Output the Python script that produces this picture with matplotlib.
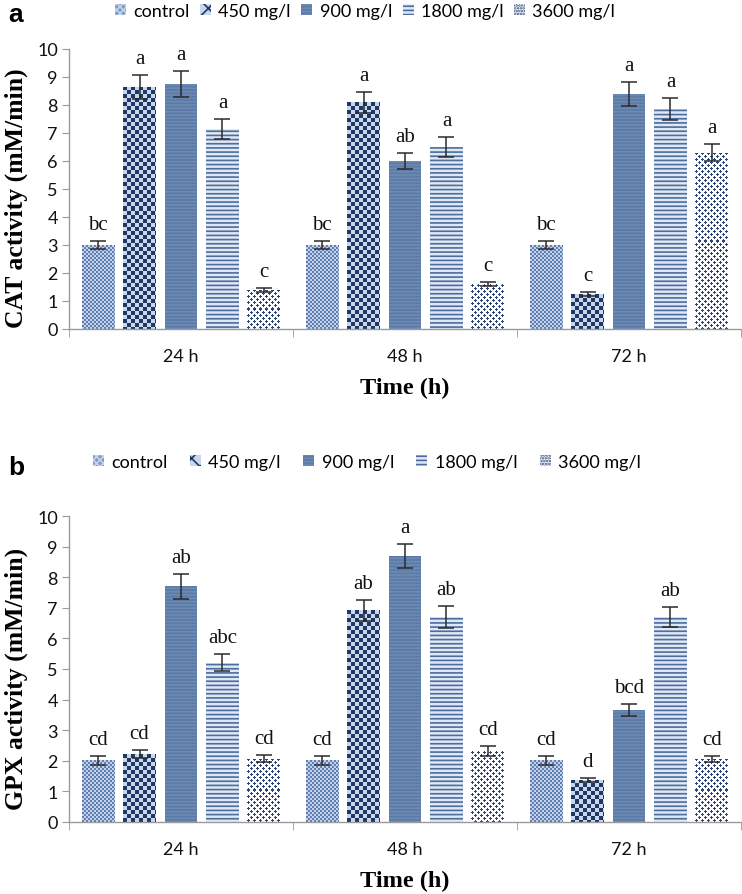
import numpy as np
import matplotlib
matplotlib.use("Agg")
import matplotlib.pyplot as plt
from matplotlib.colors import ListedColormap

# ---------------- data ----------------
times = ["24 h", "48 h", "72 h"]
series = ["control", "450 mg/l", "900 mg/l", "1800 mg/l", "3600 mg/l"]

cat_vals = [[3.0, 3.0, 3.0],
            [8.65, 8.1, 1.25],
            [8.75, 6.0, 8.4],
            [7.15, 6.5, 7.85],
            [1.4, 1.6, 6.3]]
cat_err = [[0.15, 0.15, 0.15],
           [0.42, 0.38, 0.06],
           [0.45, 0.3, 0.42],
           [0.35, 0.35, 0.4],
           [0.07, 0.07, 0.3]]
cat_let = [["bc", "bc", "bc"],
           ["a", "a", "c"],
           ["a", "ab", "a"],
           ["a", "a", "a"],
           ["c", "c", "a"]]

gpx_vals = [[2.02, 2.02, 2.02],
            [2.22, 6.92, 1.38],
            [7.7, 8.7, 3.65],
            [5.2, 6.7, 6.7],
            [2.07, 2.32, 2.07]]
gpx_err = [[0.15, 0.15, 0.15],
           [0.14, 0.35, 0.07],
           [0.4, 0.4, 0.2],
           [0.28, 0.35, 0.33],
           [0.12, 0.15, 0.1]]
gpx_let = [["cd", "cd", "cd"],
           ["cd", "ab", "d"],
           ["ab", "a", "bcd"],
           ["abc", "ab", "ab"],
           ["cd", "cd", "cd"]]

# ---------------- styles ----------------
NAVY = "#1f3864"
STEEL = "#5b7aa6"
styles = [
    dict(fc="#7f9ac4", hatch="xxxxx", ec="#c4d2ea"),   # control
    dict(fc="#c9d7ee", hatch="xx", ec=NAVY),            # 450
    dict(fc=STEEL, hatch="-----", ec="#6d8ab3"),        # 900
    dict(fc="#dfe8f6", hatch="----", ec="#4e6d9c"),     # 1800
    dict(fc="#f4f7fc", hatch="......", ec="#2f4a7a"),   # 3600
]


def checker_tile(n):
    t = np.zeros((2 * n, 2 * n))
    t[:n, n:] = 1
    t[n:, :n] = 1
    return t


dot_tile = np.array([
    [0, 1, 0, 0, 0, 0],
    [1, 1, 1, 0, 0, 0],
    [0, 1, 0, 0, 0, 0],
    [0, 0, 0, 0, 1, 0],
    [0, 0, 0, 1, 1, 1],
    [0, 0, 0, 0, 1, 0],
], dtype=float)

patterns = {
    0: (checker_tile(2), ["#5f7fb0", "#c3d1ea"]),
    1: (checker_tile(4), [NAVY, "#c9d7ee"]),
    4: (dot_tile, ["#ffffff", "#2a4576"]),
}

plt.rcParams["hatch.linewidth"] = 1.2
fig = plt.figure(figsize=(7.42, 8.95), dpi=100)
W, H = 742, 895


def fx(px):
    return px / W


def fy(py):
    return 1 - py / H


ax1 = fig.add_axes([fx(69), fy(330), fx(741) - fx(69), fy(50) - fy(330)])
ax2 = fig.add_axes([fx(69), fy(823), fx(741) - fx(69), fy(517) - fy(823)])

TICKFONT = "Lato"
SERIF = "Liberation Serif"

step = 0.185
bw = 0.147
x = np.arange(len(times))


def tile_fill(ax, rect, tile, colors):
    x0, y0 = rect.get_x(), rect.get_y()
    w, h = rect.get_width(), rect.get_height()
    p0 = ax.transData.transform((x0, y0))
    p1 = ax.transData.transform((x0 + w, y0 + h))
    nx = max(1, int(round(abs(p1[0] - p0[0]))))
    ny = max(1, int(round(abs(p1[1] - p0[1]))))
    ty, tx = tile.shape
    reps = (ny // ty + 2, nx // tx + 2)
    arr = np.tile(tile, reps)[:ny, :nx]
    im = ax.imshow(arr, cmap=ListedColormap(colors), vmin=0, vmax=1,
                   extent=(x0, x0 + w, y0, y0 + h),
                   aspect="auto", interpolation="nearest", origin="upper",
                   zorder=rect.get_zorder() + 0.1)
    im.set_clip_path(rect)


def draw(ax, vals, errs, lets, ylabel):
    ax.set_xlim(-0.5, 2.5)
    ax.set_ylim(0, 10)
    handles = []
    for i, s in enumerate(series):
        st = styles[i]
        pos = x + (i - 2) * step
        bars = ax.bar(pos, vals[i], bw, color=st["fc"], hatch=st["hatch"],
                      edgecolor=st["ec"], linewidth=0, label=s, zorder=2)
        handles.append(bars)
        ax.errorbar(pos, vals[i], yerr=errs[i], fmt="none", ecolor="#2b2b2b",
                    elinewidth=1.1, capsize=5.5, capthick=1.1, zorder=4)
        for j, b in enumerate(bars):
            if i in patterns:
                tile, cols = patterns[i]
                tile_fill(ax, b, tile, cols)
            ax.annotate(lets[i][j], (pos[j], vals[i][j] + errs[i][j]),
                        xytext=(0, 5), textcoords="offset points",
                        ha="center", va="bottom", fontsize=15, family=SERIF,
                        color="#111111")
    ax.set_xlim(-0.5, 2.5)
    ax.set_ylim(0, 10)
    for sp in ["top", "right"]:
        ax.spines[sp].set_visible(False)
    for sp in ["left", "bottom"]:
        ax.spines[sp].set_color("#9a9a9a")
        ax.spines[sp].set_linewidth(1)
    ax.set_yticks(range(0, 11))
    ax.set_xticks(x)
    ax.set_xticklabels(times)
    ax.set_xticks([-0.5, 0.5, 1.5, 2.5], minor=True)
    ax.tick_params(axis="x", which="major", length=0, pad=14)
    ax.tick_params(axis="x", which="minor", length=6, color="#9a9a9a", direction="out")
    ax.tick_params(axis="y", length=5, color="#9a9a9a", direction="out", pad=3)
    for lab in ax.get_xticklabels() + ax.get_yticklabels():
        lab.set_family(TICKFONT)
        lab.set_fontsize(13)
        lab.set_color("#111111")
    ax.set_ylabel(ylabel, family=SERIF, fontweight="bold", fontsize=18.5)
    ax.yaxis.set_label_coords(-0.061, 0.47)
    ax.set_xlabel("Time (h)", family=SERIF, fontweight="bold", fontsize=17.5)
    return handles


h1 = draw(ax1, cat_vals, cat_err, cat_let, "CAT activity (mM/min)")
h2 = draw(ax2, gpx_vals, gpx_err, gpx_let, "GPX activity (mM/min)")
ax1.xaxis.set_label_coords(0.5, -0.17)
ax2.xaxis.set_label_coords(0.5, -0.158)

leg_kw = dict(frameon=False, prop={"family": TICKFONT, "size": 13},
              handlelength=0.6, handleheight=0.6, handletextpad=0.4, borderaxespad=0)
leg1 = fig.legend(h1, series, loc="center", bbox_to_anchor=(fx(365), fy(12)), ncol=5,
                  columnspacing=0.6, **leg_kw)
leg2 = fig.legend(h2, series, loc="center", bbox_to_anchor=(fx(367), fy(463)), ncol=5,
                  columnspacing=1.25, **leg_kw)

fig.text(fx(8), fy(15), "a", family="Liberation Sans", fontweight="bold", fontsize=19,
         va="center", ha="left")
fig.text(fx(8), fy(468), "b", family="Liberation Sans", fontweight="bold", fontsize=19,
         va="center", ha="left")

fig.savefig("out.png", dpi=100)
